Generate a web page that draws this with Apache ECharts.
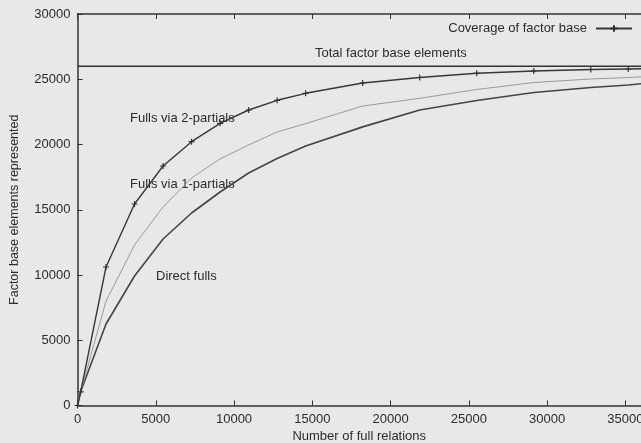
<!DOCTYPE html>
<html>
<head>
<meta charset="utf-8">
<script src="https://cdn.jsdelivr.net/npm/echarts@6/dist/echarts.min.js"></script>
<style>
html,body{margin:0;padding:0;background:#e8e8e8;}
#c{width:641px;height:443px;}
</style>
</head>
<body>
<div id="c"></div>
<script>
// Data
var fullRelations = [0, 200, 1822, 3644, 5466, 7288, 9110, 10932, 12754, 14576, 18220, 21864, 25508, 29152, 32796, 35190, 36440];
var coverageFactorBase = [0, 1050, 10613, 15440, 18352, 20215, 21625, 22644, 23387, 23923, 24713, 25134, 25456, 25632, 25747, 25785, 25809];
var fullsVia1Partials = [0, 1050, 8000, 12299, 15210, 17433, 18900, 19962, 20958, 21600, 22950, 23540, 24215, 24750, 25019, 25134, 25210];
var directFulls = [0, 1050, 6245, 9923, 12760, 14751, 16360, 17816, 18927, 19885, 21350, 22644, 23372, 23985, 24368, 24560, 24713];
var totalFactorBase = 26000;
var xTicks = [0, 5000, 10000, 15000, 20000, 25000, 30000, 35000];
var yTicks = [0, 5000, 10000, 15000, 20000, 25000, 30000];

function pairs(xs, ys) { return xs.map(function (x, i) { return [x, ys[i]]; }); }
function plain(v) { return String(v); }

var FONT = '"Liberation Sans", Arial, Helvetica, sans-serif';
var TXT = '#2b2b2b';
var chart = echarts.init(document.getElementById('c'), null, {renderer: 'canvas'});
var crossPath = 'path://M0,-3L0,3M-3,0L3,0';

chart.setOption({
  animation: false,
  backgroundColor: '#e8e8e8',
  textStyle: {fontFamily: FONT},
  grid: {left: 77.5, right: 0, top: 14, bottom: 37.5, containLabel: false, outerBoundsMode: 'none'},
  legend: {
    data: ['Coverage of factor base'],
    right: 8, top: 22,
    padding: 0,
    align: 'right',
    itemWidth: 36, itemHeight: 8,
    textStyle: {fontFamily: FONT, fontSize: 13, color: TXT, padding: [0, 4, 0, 0]}
  },
  xAxis: [{
    type: 'value', position: 'bottom',
    min: xTicks[0], max: 36000, interval: xTicks[1] - xTicks[0],
    name: 'Number of full relations', nameLocation: 'middle', nameGap: 23,
    nameTextStyle: {fontFamily: FONT, fontSize: 13, color: TXT},
    axisLine: {show: true, onZero: false, lineStyle: {color: '#333', width: 1.5}},
    axisTick: {show: true, inside: true, length: 5, lineStyle: {color: '#333'}},
    axisLabel: {show: true, margin: 7, showMaxLabel: false, formatter: plain, fontFamily: FONT, fontSize: 13, color: TXT},
    splitLine: {show: false}
  }, {
    type: 'value', position: 'top',
    min: xTicks[0], max: 36000, interval: xTicks[1] - xTicks[0],
    axisLine: {show: true, onZero: false, lineStyle: {color: '#333', width: 1.5}},
    axisTick: {show: true, inside: true, length: 5, lineStyle: {color: '#333'}},
    axisLabel: {show: false},
    splitLine: {show: false}
  }],
  yAxis: [{
    type: 'value',
    min: yTicks[0], max: yTicks[yTicks.length - 1], interval: yTicks[1] - yTicks[0],
    name: 'Factor base elements represented', nameLocation: 'middle', nameGap: 56,
    nameTextStyle: {fontFamily: FONT, fontSize: 12.5, color: TXT},
    axisLine: {show: true, onZero: false, lineStyle: {color: '#333', width: 1.5}},
    axisTick: {show: true, inside: true, length: 5, lineStyle: {color: '#333'}},
    axisLabel: {show: true, margin: 7, formatter: plain, fontFamily: FONT, fontSize: 13, color: TXT},
    splitLine: {show: false}
  }],
  series: [{
    name: 'Total factor base elements',
    type: 'line',
    data: [[0, totalFactorBase], [36000, totalFactorBase]],
    symbol: 'none',
    lineStyle: {color: '#333', width: 1.6},
    z: 3
  }, {
    name: 'Direct fulls',
    type: 'line',
    data: pairs(fullRelations, directFulls),
    symbol: 'none',
    lineStyle: {color: '#444', width: 1.6},
    clip: true
  }, {
    name: 'Fulls via 1-partials',
    type: 'line',
    data: pairs(fullRelations, fullsVia1Partials),
    symbol: 'none',
    lineStyle: {color: '#999', width: 1},
    clip: true
  }, {
    name: 'Coverage of factor base',
    type: 'line',
    data: pairs(fullRelations, coverageFactorBase),
    symbol: crossPath,
    symbolSize: 6,
    showAllSymbol: true,
    itemStyle: {color: '#333', borderColor: '#333', borderWidth: 1.2},
    lineStyle: {color: '#383838', width: 1.4},
    clip: true
  }],
  graphic: [
    {type: 'text', x: 315, y: 53, style: {text: 'Total factor base elements', font: '13px ' + FONT, fill: TXT, verticalAlign: 'middle'}},
    {type: 'text', x: 130, y: 118, style: {text: 'Fulls via 2-partials', font: '13px ' + FONT, fill: TXT, verticalAlign: 'middle'}},
    {type: 'text', x: 130, y: 184, style: {text: 'Fulls via 1-partials', font: '13px ' + FONT, fill: TXT, verticalAlign: 'middle'}},
    {type: 'text', x: 156, y: 276, style: {text: 'Direct fulls', font: '13px ' + FONT, fill: TXT, verticalAlign: 'middle'}}
  ]
});
</script>
</body>
</html>
